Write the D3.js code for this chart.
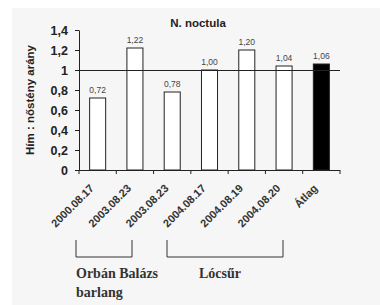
<!DOCTYPE html>
<html><head><meta charset="utf-8">
<script src="https://cdn.jsdelivr.net/npm/d3@7"></script>
<style>body{margin:0;background:#fff}svg{display:block}</style>
</head><body>
<script>
const categories = ["2000.08.17","2003.08.23","2003.08.23","2004.08.17","2004.08.19","2004.08.20","Átlag"];
const values = [0.72,1.22,0.78,1.00,1.20,1.04,1.06];
const valueLabels = ["0,72","1,22","0,78","1,00","1,20","1,04","1,06"];
const yTicks = [0,0.2,0.4,0.6,0.8,1,1.2,1.4];
const yTickLabels = ["0","0,2","0,4","0,6","0,8","1","1,2","1,4"];
const groups = [{label:["Orbán Balázs","barlang"], from:0, to:1}, {label:["Lócsűr"], from:2, to:5}];

const W=380,H=305;
const svg=d3.select("body").append("svg").attr("width",W).attr("height",H);
svg.append("rect").attr("x",12).attr("y",8).attr("width",W-12).attr("height",H-8).attr("fill","#f6f6f6");

const x=d3.scaleBand().domain(d3.range(categories.length)).range([79,340]).paddingInner(0.57).paddingOuter(0.285);
const y=d3.scaleLinear().domain([0,1.4]).range([170,30]);

// bars
svg.selectAll("rect.bar").data(values).join("rect").attr("class","bar")
  .attr("x",(d,i)=>x(i)).attr("width",x.bandwidth())
  .attr("y",d=>y(d)).attr("height",d=>y(0)-y(d))
  .attr("fill",(d,i)=>i===values.length-1?"#000":"#fff")
  .attr("stroke","#222").attr("stroke-width",1);

// reference line at 1
svg.append("line").attr("x1",79).attr("x2",340).attr("y1",Math.round(y(1))+0.5).attr("y2",Math.round(y(1))+0.5)
  .attr("stroke","#222").attr("stroke-width",1.2);

// value labels
svg.selectAll("text.val").data(values).join("text").attr("class","val")
  .attr("x",(d,i)=>x(i)+x.bandwidth()/2).attr("y",d=>y(d)-5)
  .attr("text-anchor","middle").attr("font-family","Liberation Sans, Arial, sans-serif")
  .attr("font-size",8.5).attr("fill","#444").text((d,i)=>valueLabels[i]);

// y axis
const ya=svg.append("g").attr("transform","translate(79,0)")
  .call(d3.axisLeft(y).tickValues(yTicks).tickFormat((d,i)=>yTickLabels[i]).tickSize(4).tickSizeOuter(0));
ya.select(".domain").attr("stroke","#222");
ya.selectAll(".tick line").attr("stroke","#222");
ya.selectAll("text").attr("font-family","Liberation Sans, Arial, sans-serif").attr("font-weight","bold")
  .attr("font-size",12.5).attr("fill","#222").attr("dx","-4").attr("dy","0.36em").attr("y",0);

// x axis with boundary ticks
const xa=svg.append("g").attr("transform","translate(0,170)");
xa.append("line").attr("x1",79).attr("x2",340).attr("y1",0.5).attr("y2",0.5).attr("stroke","#222");
const bounds=d3.range(categories.length+1).map(i=>79+i*(340-79)/categories.length);
xa.selectAll("line.t").data(bounds).join("line").attr("class","t")
  .attr("x1",d=>d).attr("x2",d=>d).attr("y1",0).attr("y2",4).attr("stroke","#222");
xa.selectAll("text").data(categories).join("text")
  .attr("transform",(d,i)=>`translate(${x(i)+x.bandwidth()/2-3},${19}) rotate(-45)`)
  .attr("text-anchor","end").attr("font-family","Liberation Sans, Arial, sans-serif").attr("font-weight","bold")
  .attr("font-size",11).attr("fill","#333").text(d=>d);

// title
svg.append("text").attr("x",198).attr("y",27).attr("text-anchor","middle")
  .attr("font-family","Liberation Sans, Arial, sans-serif").attr("font-weight","bold").attr("font-size",11.5)
  .attr("fill","#222").text("N. noctula");

// y title
svg.append("text").attr("transform","translate(34,100) rotate(-90)").attr("text-anchor","middle")
  .attr("font-family","Liberation Sans, Arial, sans-serif").attr("font-weight","bold").attr("font-size",11.5)
  .attr("fill","#222").text("Hím : nőstény arány");

// group brackets
const bx=[[76,132],[167,283]];
groups.forEach((g,gi)=>{
  const [a,b]=bx[gi];
  svg.append("path").attr("d",`M${a},240V257H${b}V240`).attr("fill","none").attr("stroke","#333").attr("stroke-width",1);
});
const gl=svg.selectAll("text.grp").data(groups).join("text").attr("class","grp")
  .attr("font-family","Liberation Serif, Times New Roman, serif").attr("font-weight","bold").attr("font-size",14)
  .attr("fill","#333").attr("x",(d,i)=>i===0?76:199).attr("y",278);
gl.selectAll("tspan").data(d=>d.label).join("tspan").attr("x",function(){return this.parentNode.getAttribute("x");})
  .attr("dy",(d,i)=>i===0?0:19).text(d=>d);
</script>
</body></html>
